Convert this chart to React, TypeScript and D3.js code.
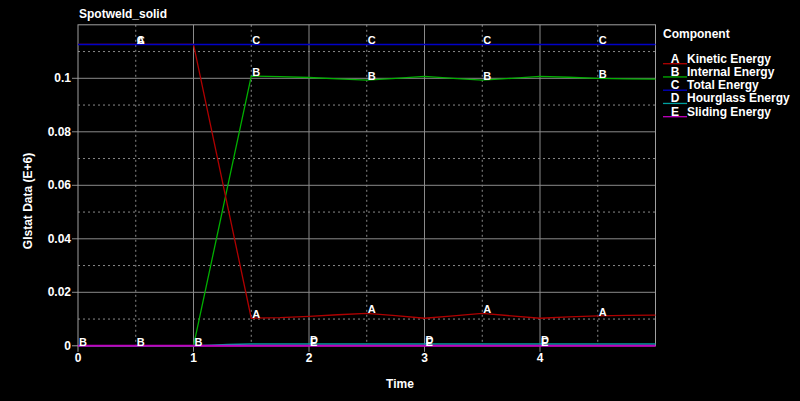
import React from "react";
import * as d3 from "d3";

const W = 800;
const H = 401;

const title = "Spotweld_solid";
const xLabel = "Time";
const yLabel = "Glstat Data (E+6)";
const legendTitle = "Component";

const xTicks = [0, 1, 2, 3, 4];
const yTicks = [0, 0.02, 0.04, 0.06, 0.08, 0.1];
const yTickLabels = ["0", "0.02", "0.04", "0.06", "0.08", "0.1"];

// time samples
const kineticT = [0, 0.5, 1, 1.5, 1.75, 2, 2.25, 2.5, 2.75, 3, 3.25, 3.5, 3.75, 4, 4.25, 4.5, 4.75, 5];
const kineticV = [0.1127, 0.1127, 0.1127, 0.0103, 0.0105, 0.0110, 0.0116, 0.0121, 0.0113, 0.0103, 0.0112, 0.0121, 0.0112, 0.0103, 0.0108, 0.0112, 0.0114, 0.0115];

const internalT = [0, 0.5, 1, 1.5, 1.75, 2, 2.25, 2.5, 2.75, 3, 3.25, 3.5, 3.75, 4, 4.25, 4.5, 4.75, 5];
const internalV = [0, 0, 0, 0.1008, 0.1006, 0.1003, 0.0998, 0.0993, 0.1000, 0.1007, 0.1000, 0.0993, 0.1000, 0.1007, 0.1004, 0.1000, 0.0998, 0.0997];

const totalT = [0, 1, 2, 3, 4, 5];
const totalV = [0.1126, 0.1126, 0.1126, 0.1126, 0.1126, 0.1126];

const hourglassT = [0, 1, 1.15, 1.3, 1.5, 2, 3, 4, 5];
const hourglassV = [0, 0, 0.0002, 0.0005, 0.0007, 0.0007, 0.0007, 0.0007, 0.0007];

const slidingT = [0, 1, 2, 3, 4, 5];
const slidingV = [0, 0, 0, 0, 0, 0];

const letters = ["A", "B", "C", "D", "E"];
const names = ["Kinetic Energy", "Internal Energy", "Total Energy", "Hourglass Energy", "Sliding Energy"];
const colors = ["#b00000", "#00b000", "#0000c8", "#00a0a0", "#c000c0"];
const labelXs = [
  [0.5, 1.5, 2.5, 3.5, 4.5],
  [0, 0.5, 1, 1.5, 2.5, 3.5, 4.5],
  [0.5, 1.5, 2.5, 3.5, 4.5],
  [2, 3, 4],
  [2, 3, 4],
];

const seriesT = [kineticT, internalT, totalT, hourglassT, slidingT];
const seriesV = [kineticV, internalV, totalV, hourglassV, slidingV];

const FONT = "'Liberation Sans', Arial, sans-serif";

function interp(ts: number[], vs: number[], t: number) {
  for (let i = 0; i < ts.length - 1; i++) {
    if (t >= ts[i] && t <= ts[i + 1]) {
      const f = (t - ts[i]) / (ts[i + 1] - ts[i] || 1);
      return vs[i] + f * (vs[i + 1] - vs[i]);
    }
  }
  return vs[vs.length - 1];
}

export default function App() {
  const x = d3.scaleLinear().domain([0, 5]).range([78, 655.5]);
  const y = d3.scaleLinear().domain([0, 0.12]).range([345.8, 24.8]);
  const x0 = x(0), x1 = x(5), y0 = y(0), y1 = y(0.12);

  const minorX = d3.range(0.5, 5, 1);
  const minorY = d3.range(0.01, 0.12, 0.02);
  const majorY = [0.02, 0.04, 0.06, 0.08, 0.1];
  const majorX = [1, 2, 3, 4];

  const gridCol = "#8a8a8a";

  const lines = seriesT.map((ts, i) =>
    d3
      .line<number>()
      .x((_, j) => x(ts[j]))
      .y((v) => y(v))(seriesV[i]) as string
  );

  const drawOrder = [1, 0, 2, 3, 4];
  const widths = [1.3, 1.3, 1.5, 1.5, 2];

  return (
    <svg width={W} height={H} style={{ position: "absolute", left: 0, top: 0, background: "#000" }} fontFamily={FONT}>
      <rect x={0} y={0} width={W} height={H} fill="#000" />
      {/* minor grid */}
      {minorX.map((v) => (
        <line key={"mx" + v} x1={x(v)} x2={x(v)} y1={y1} y2={y0} stroke={gridCol} strokeWidth={1} strokeDasharray="2,3" />
      ))}
      {minorY.map((v) => (
        <line key={"my" + v} x1={x0} x2={x1} y1={y(v)} y2={y(v)} stroke={gridCol} strokeWidth={1} strokeDasharray="2,3" />
      ))}
      {/* major grid */}
      {majorX.map((v) => (
        <line key={"Mx" + v} x1={x(v)} x2={x(v)} y1={y1} y2={y0 + 6} stroke={gridCol} strokeWidth={1} />
      ))}
      {majorY.map((v) => (
        <line key={"My" + v} x1={x0 - 6} x2={x1} y1={y(v)} y2={y(v)} stroke={gridCol} strokeWidth={1} />
      ))}
      {/* frame */}
      <rect x={x0} y={y1} width={x1 - x0} height={y0 - y1} fill="none" stroke="#a0a0a0" strokeWidth={1} />
      <line x1={x0 - 6} x2={x0} y1={y0} y2={y0} stroke="#a0a0a0" />
      <line x1={x0} x2={x0} y1={y0} y2={y0 + 6} stroke="#a0a0a0" />

      {/* series */}
      {drawOrder.map((i) => (
        <path key={"s" + i} d={lines[i]} fill="none" stroke={colors[i]} strokeWidth={widths[i]} />
      ))}

      {/* curve labels */}
      {labelXs.map((xs, i) =>
        xs.map((t) => (
          <text key={"l" + i + "_" + t} x={x(t) + 1} y={y(interp(seriesT[i], seriesV[i], t)) - 0.3} fill="#fff" fontSize={11} fontWeight="bold">
            {letters[i]}
          </text>
        ))
      )}

      {/* tick labels */}
      {xTicks.map((v) => (
        <text key={"xt" + v} x={x(v)} y={362} fill="#fff" fontSize={12} fontWeight="bold" textAnchor="middle">
          {String(v)}
        </text>
      ))}
      {yTicks.map((v, i) => (
        <text key={"yt" + v} x={71} y={y(v) + 4} fill="#fff" fontSize={12} fontWeight="bold" textAnchor="end">
          {yTickLabels[i]}
        </text>
      ))}

      {/* titles */}
      <text x={79} y={18} fill="#fff" fontSize={12} fontWeight="bold">
        {title}
      </text>
      <text x={400} y={388} fill="#fff" fontSize={12} fontWeight="bold" textAnchor="middle">
        {xLabel}
      </text>
      <text transform="translate(32,201) rotate(-90)" fill="#fff" fontSize={12} fontWeight="bold" textAnchor="middle">
        {yLabel}
      </text>

      {/* legend */}
      <text x={663} y={37.5} fill="#fff" fontSize={12} fontWeight="bold">
        {legendTitle}
      </text>
      {letters.map((l, i) => {
        const by = 62.7 + i * 13.25;
        return (
          <g key={"lg" + i}>
            <line x1={663} x2={687} y1={by + 1} y2={by + 1} stroke={colors[i]} strokeWidth={1.3} />
            <text x={675} y={by} fill="#fff" fontSize={12} fontWeight="bold" textAnchor="middle">
              {l}
            </text>
            <text x={687} y={by} fill="#fff" fontSize={12} fontWeight="bold">
              {names[i]}
            </text>
          </g>
        );
      })}
    </svg>
  );
}
